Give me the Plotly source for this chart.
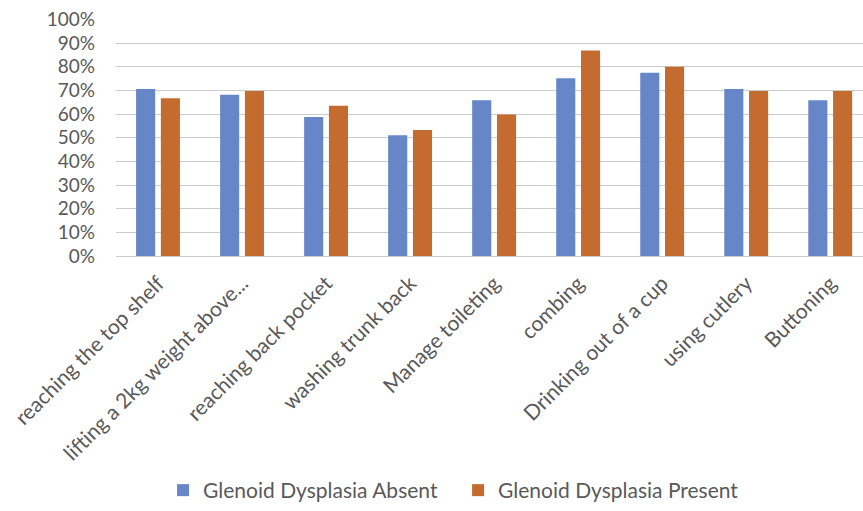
import plotly.graph_objects as go

categories = [
    "reaching the top shelf",
    "lifting a 2kg weight above...",
    "reaching back pocket",
    "washing trunk back",
    "Manage toileting",
    "combing",
    "Drinking out of a cup",
    "using cutlery",
    "Buttoning",
]
absent = [0.706, 0.682, 0.588, 0.511, 0.658, 0.752, 0.775, 0.706, 0.658]
present = [0.667, 0.698, 0.635, 0.533, 0.598, 0.869, 0.800, 0.698, 0.698]
series_names = ["Glenoid Dysplasia Absent", "Glenoid Dysplasia Present"]
tick_vals = [i / 10 for i in range(11)]
tick_text = [f"{i * 10}%" for i in range(11)]

FONT = "Lato"
TEXT = "#595959"

fig = go.Figure()
fig.add_trace(go.Bar(x=categories, y=absent, name=series_names[0],
                     marker=dict(color="#6686C8", line=dict(width=0))))
fig.add_trace(go.Bar(x=categories, y=present, name=series_names[1],
                     marker=dict(color="#C46C2F", line=dict(width=0))))

fig.update_layout(
    width=863, height=511,
    margin=dict(l=116, r=0, t=19, b=250),
    plot_bgcolor="white", paper_bgcolor="white",
    barmode="group", bargap=0.41, bargroupgap=0.23,
    font=dict(family=FONT, size=19, color=TEXT),
    showlegend=True,
    legend=dict(orientation="h", x=0.063, xanchor="left", y=-0.99,
                yanchor="middle", font=dict(size=21, color=TEXT),
                itemwidth=30, tracegroupgap=0,
                entrywidth=250, entrywidthmode="pixels"),
)
fig.update_xaxes(
    type="category", range=[-0.5, 8.39], tickangle=-45,
    showgrid=False, showline=False, ticks="", ticklabelstandoff=10,
    tickfont=dict(size=21, color=TEXT), automargin=False,
)
fig.update_yaxes(
    range=[0, 1.002], tickvals=tick_vals, ticktext=tick_text,
    showgrid=True, gridcolor="#cccccc", gridwidth=1,
    zeroline=True, zerolinecolor="#cccccc", zerolinewidth=1,
    showline=False, ticks="", ticklabelstandoff=20,
    tickfont=dict(size=19, color=TEXT), automargin=False,
)

fig.write_html("out.html")
